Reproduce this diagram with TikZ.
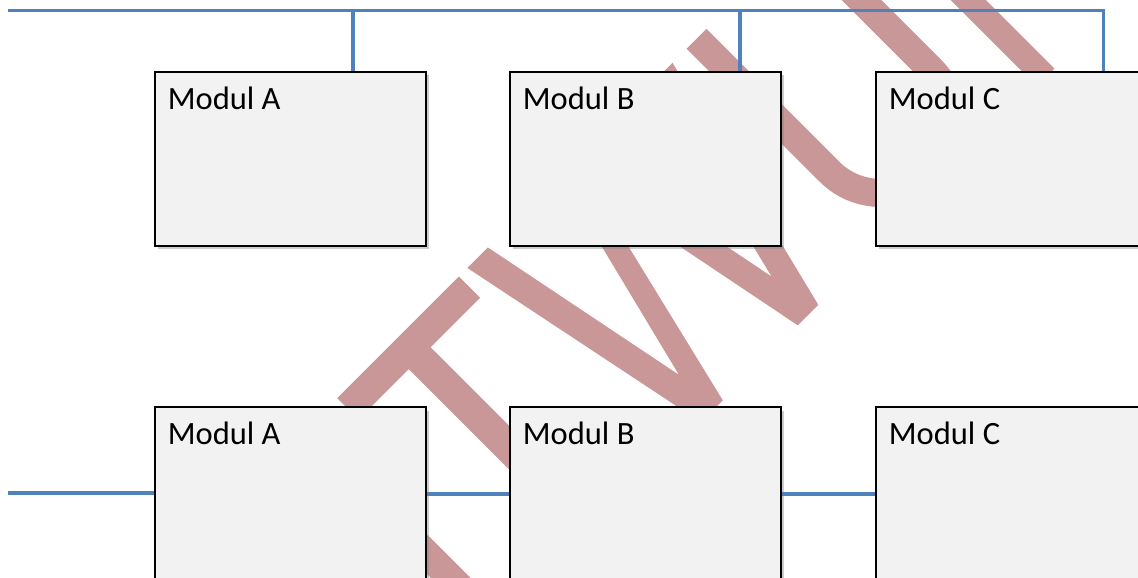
\documentclass[tikz,border=0pt]{standalone}
\usepackage{fontspec}
\setmainfont{Carlito}
\usetikzlibrary{calc,shadows}

\definecolor{busblue}{RGB}{79,129,189}
\definecolor{boxgray}{RGB}{242,242,242}
\definecolor{stamp}{RGB}{201,151,151}

\tikzset{
  modul/.style={draw=black, line width=1.1pt, fill=boxgray, inner sep=0pt,
    minimum width=5.42cm, minimum height=3.48cm,
    drop shadow={shadow xshift=0.06cm, shadow yshift=-0.07cm, opacity=0.4}},
  modtext/.style={anchor=base west, inner sep=0pt, font=\fontsize{18.5}{22}\selectfont},
  bus/.style={draw=busblue, line width=2.1pt},
}

\begin{document}
\begin{tikzpicture}
  \useasboundingbox (0,0) rectangle (22.76,-11.56);
  \clip (0,0) rectangle (22.76,-11.56);
  \fill[white] (0,0) rectangle (22.76,-11.56);

  % Stempel im Hintergrund (Buchstaben um 45 Grad gedreht, Grundlinie bei y=0)
  \begin{scope}[shift={(11.23,-11.23)}, rotate=45, x=0.02cm, y=0.02cm]
    \fill[stamp] (-104,0) -- (-76,0) -- (-76,274) -- (-104,274) -- cycle;
    % T
    \fill[stamp] (28,0) -- (59,0) -- (59,244) -- (129,244) -- (129,274)
      -- (-43,274) -- (-43,244) -- (28,244) -- cycle;
    % W
    \fill[stamp] (141,274) -- (170,274) -- (215,49) -- (271,274) -- (306,274)
      -- (350,53) -- (404,274) -- (431,274) -- (363,0) -- (334,0)
      -- (286,242) -- (228,0) -- (197,0) -- cycle;
    % U
    \fill[stamp] (451,274) -- (451,86) arc[start angle=180, end angle=360, radius=86]
      -- (623,274) -- (595,274) -- (595,86) arc[start angle=0, end angle=-180, radius=58]
      -- (479,274) -- cycle;
    \fill[stamp] (672,0) -- (697,0) -- (697,274) -- (672,274) -- cycle;
  \end{scope}

  % obere Reihe: Module am gemeinsamen Bus
  \node[modul] (a1) at (5.81,-3.18) {};
  \node[modul] (b1) at (12.91,-3.18) {};
  \node[modul] (c1) at (20.23,-3.18) {};
  \node[modtext] (ta1) at ($(a1.north west)+(0.27,-0.76)$) {Modul A};
  \node[modtext] (tb1) at ($(b1.north west)+(0.27,-0.76)$) {Modul B};
  \node[modtext] (tc1) at ($(c1.north west)+(0.27,-0.76)$) {Modul C};

  % untere Reihe: Module hintereinander
  \node[modul] (a2) at (5.81,-9.88) {};
  \node[modul] (b2) at (12.91,-9.88) {};
  \node[modul] (c2) at (20.23,-9.88) {};
  \node[modtext] (ta2) at ($(a2.north west)+(0.27,-0.76)$) {Modul A};
  \node[modtext] (tb2) at ($(b2.north west)+(0.27,-0.76)$) {Modul B};
  \node[modtext] (tc2) at ($(c2.north west)+(0.27,-0.76)$) {Modul C};

  % Bus oben
  \coordinate (busl) at (0.16,-0.21);
  \coordinate (busr) at (22.07,-0.21);
  \coordinate (da) at (7.06,-0.21);
  \coordinate (db) at (14.8,-0.21);
  \draw[bus] (busl) -- (busr) -- (busr |- c1.north);
  \draw[bus] (da) -- (da |- a1.north);
  \draw[bus] (db) -- (db |- b1.north);

  % Kette unten
  \coordinate (kette) at (0.16,-9.86);
  \draw[bus] (kette) -- (kette -| a2.west);
  \draw[bus] (a2.east) -- (b2.west);
  \draw[bus] (b2.east) -- (c2.west);
\end{tikzpicture}
\end{document}
